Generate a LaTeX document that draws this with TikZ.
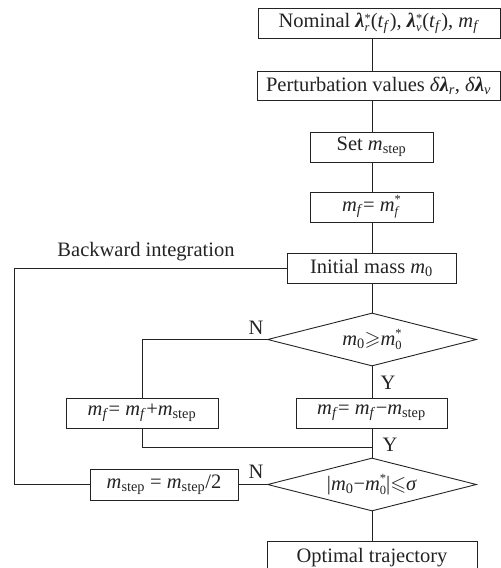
\documentclass[tikz,border=0pt]{standalone}
\usepackage{fontspec}
\setmainfont{Liberation Serif}
\usepackage{amssymb}
\usetikzlibrary{shapes.geometric}
\definecolor{ink}{RGB}{35,35,35}
\newcommand{\fsz}{\fontsize{20.5}{24}\selectfont}
\newcommand{\sbs}[1]{\textsubscript{#1}}
\newcommand{\sbsp}[2]{\raisebox{-4pt}{\fontsize{12.5}{10}\selectfont\shortstack[l]{#2\\#1}}}
\newcommand{\lam}{{\bfseries\itshape λ}}
\newcommand{\zc}[1]{\makebox[0pt]{#1}}
\tikzset{
  base/.style={draw=ink, line width=0.9pt, inner sep=0pt, font=\fsz, text=ink},
  box/.style={base, rectangle},
  dia/.style={base, diamond, aspect=3.94},
  lbl/.style={inner sep=0pt, font=\fsz, text=ink},
  link/.style={draw=ink, line width=0.9pt}
}
\begin{document}
\begin{tikzpicture}[x=1pt,y=-1pt]
\useasboundingbox (0,0) rectangle (501,568);
% boxes
\node[box, minimum width=242, minimum height=30] (b1) at (379,23)
  {\zc{Nominal \lam\sbsp{\textit{r}}{*}(\textit{t}\sbs{\textit{f}}), \lam\sbsp{\textit{v}}{*}(\textit{t}\sbs{\textit{f}}), \textit{m}\sbs{\textit{f}}}};
\node[box, minimum width=243, minimum height=29] (b2) at (378.5,85.5)
  {\zc{Perturbation values \textit{δ}\lam\sbs{\textit{r}}, \textit{δ}\lam\sbs{\textit{v}}}};
\node[box, minimum width=123, minimum height=30] (b3) at (371.5,147)
  {\zc{Set \textit{m}\sbs{step}}};
\node[box, minimum width=123, minimum height=30] (b4) at (371.5,207)
  {\zc{\textit{m}\sbs{\textit{f}}= \textit{m}\sbsp{\textit{f}}{*}}};
\node[box, minimum width=169, minimum height=30] (b5) at (371.5,268)
  {\zc{Initial mass \textit{m}\sbs{0}}};
\node[dia, minimum width=209, minimum height=53] (d1) at (372,339.5)
  {\zc{\textit{m}\sbs{0}$\geqslant$\textit{m}\sbsp{0}{*}}};
\node[box, minimum width=152, minimum height=30] (b6) at (142,413)
  {\zc{\textit{m}\sbs{\textit{f}}= \textit{m}\sbs{\textit{f}}+\textit{m}\sbs{step}}};
\node[box, minimum width=151, minimum height=30] (b7) at (371.5,413)
  {\zc{\textit{m}\sbs{\textit{f}}= \textit{m}\sbs{\textit{f}}−\textit{m}\sbs{step}}};
\node[dia, minimum width=209, minimum height=53] (d2) at (372,484.5)
  {\zc{|\textit{m}\sbs{0}−\textit{m}\sbsp{0}{*}|$\leqslant$\textit{σ}}};
\node[box, minimum width=148, minimum height=31] (b8) at (164,484.5)
  {\zc{\textit{m}\sbs{step} = \textit{m}\sbs{step}/2}};
\node[box, minimum width=210, minimum height=34] (b9) at (372,558)
  {\zc{\raisebox{2pt}{Optimal trajectory}}};
% labels
\node[lbl] (lbw) at (146,252) {Backward integration};
\node[lbl] (n1) at (256,328) {N};
\node[lbl] (y1) at (388,383) {Y};
\node[lbl] (y2) at (390,445) {Y};
\node[lbl] (n2) at (256,472) {N};
% corner coordinates
\coordinate (cA) at (14,268);
\coordinate (cB) at (14,484.5);
\coordinate (cC) at (142,339.5);
\coordinate (cD) at (142,447);
\coordinate (cE) at (372,447);
% connectors
\draw[link] (b1.south -| d1.center) -- (b2.north -| d1.center);
\draw[link] (b2.south -| d1.center) -- (b3.north -| d1.center);
\draw[link] (b3.south -| d1.center) -- (b4.north -| d1.center);
\draw[link] (b4.south -| d1.center) -- (b5.north -| d1.center);
\draw[link] (b5.south -| d1.center) -- (d1.north);
\draw[link] (d1.south) -- (b7.north -| d1.center);
\draw[link] (b7.south -| d1.center) -- (d2.north);
\draw[link] (d1.west) -- (cC) -- (b6.north);
\draw[link] (b6.south) -- (cD) -- (cE);
\draw[link] (d2.west) -- (b8.east);
\draw[link] (d2.south) -- (b9.north -| d2.center);
\draw[link] (b5.west) -- (cA) -- (cB) -- (b8.west);
\end{tikzpicture}
\end{document}
